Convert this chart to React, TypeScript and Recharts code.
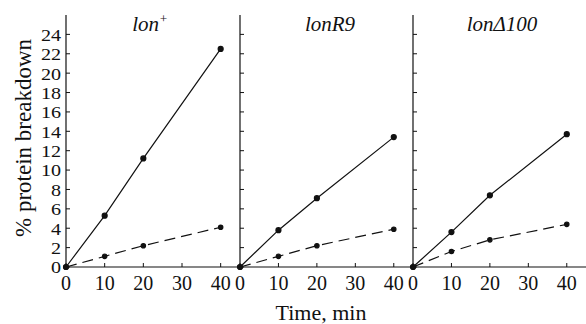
import { Line, LineChart, XAxis, YAxis } from "recharts";

const times = [0, 10, 20, 40];
const lonPlusSolid = [0, 5.3, 11.2, 22.5];
const lonPlusDashed = [0, 1.1, 2.2, 4.1];
const lonR9Solid = [0, 3.8, 7.1, 13.4];
const lonR9Dashed = [0, 1.1, 2.2, 3.9];
const lonD100Solid = [0, 3.6, 7.4, 13.7];
const lonD100Dashed = [0, 1.6, 2.8, 4.4];

const xTicks = [0, 10, 20, 30, 40];
const yTicks = [0, 2, 4, 6, 8, 10, 12, 14, 16, 18, 20, 22, 24];

const FONT = "'Liberation Serif', 'DejaVu Serif', serif";
const INK = "#111";

function rows(solid: number[], dashed: number[]) {
  return times.map((t, i) => ({ t, solid: solid[i], dashed: dashed[i] }));
}

function YTick(props: any) {
  const { x, y, payload, showLabel } = props;
  return (
    <g>
      <line x1={x} x2={x + 4} y1={y} y2={y} stroke={INK} strokeWidth={1} />
      {showLabel && (
        <text
          transform={`translate(${x - 5},${y + 1}) scale(1.22,1)`}
          textAnchor="end"
          dominantBaseline="central"
          fontFamily={FONT}
          fontSize={16.5}
          fill={INK}
        >
          {payload.value}
        </text>
      )}
    </g>
  );
}

function XTick(props: any) {
  const { x, y, payload } = props;
  return (
    <g>
      <line x1={x} x2={x} y1={y} y2={y - 4} stroke={INK} strokeWidth={1} />
      <text
        x={x}
        y={y + 16}
        textAnchor="middle"
        dominantBaseline="central"
        fontFamily={FONT}
        fontSize={20}
        fill={INK}
      >
        {payload.value}
      </text>
    </g>
  );
}

function Panel({
  left,
  width,
  axisWidth,
  marginLeft,
  labels,
  solid,
  dashed,
}: {
  left: number;
  width: number;
  axisWidth: number;
  marginLeft: number;
  labels: boolean;
  solid: number[];
  dashed: number[];
}) {
  return (
    <div style={{ position: "absolute", left, top: 0 }}>
      <LineChart
        width={width}
        height={300}
        data={rows(solid, dashed)}
        margin={{ top: 15, right: 0, left: marginLeft, bottom: 0 }}
      >
        <XAxis
          dataKey="t"
          type="number"
          domain={[0, 45]}
          ticks={xTicks}
          height={33}
          tickSize={0}
          tickMargin={0}
          tickLine={false}
          axisLine={{ stroke: INK, strokeWidth: 1.2 }}
          tick={<XTick />}
          interval={0}
        />
        <YAxis
          type="number"
          domain={[0, 26]}
          ticks={yTicks}
          width={axisWidth}
          tickSize={0}
          tickMargin={0}
          tickLine={false}
          axisLine={{ stroke: INK, strokeWidth: 1.2 }}
          tick={<YTick showLabel={labels} />}
          interval={0}
        />
        <Line
          dataKey="solid"
          type="linear"
          stroke={INK}
          strokeWidth={1.2}
          dot={{ r: 2.5, fill: INK, stroke: INK }}
          isAnimationActive={false}
        />
        <Line
          dataKey="dashed"
          type="linear"
          stroke={INK}
          strokeWidth={1.2}
          strokeDasharray="11 6"
          dot={{ r: 2.2, fill: INK, stroke: INK, strokeDasharray: "0" }}
          isAnimationActive={false}
        />
      </LineChart>
    </div>
  );
}

export default function App() {
  return (
    <div
      style={{
        position: "absolute",
        left: 0,
        top: 0,
        width: 586,
        height: 324,
        background: "#fff",
        overflow: "hidden",
      }}
    >
      <Panel left={0} width={240} axisWidth={66} marginLeft={0} labels solid={lonPlusSolid} dashed={lonPlusDashed} />
      <Panel left={230} width={183} axisWidth={1} marginLeft={9} labels={false} solid={lonR9Solid} dashed={lonR9Dashed} />
      <Panel left={403} width={183} axisWidth={1} marginLeft={9} labels={false} solid={lonD100Solid} dashed={lonD100Dashed} />
      <svg
        width={586}
        height={324}
        style={{ position: "absolute", left: 0, top: 0, pointerEvents: "none" }}
      >
        <g fontFamily={FONT} fill={INK}>
          <text x={150} y={31} textAnchor="middle" fontSize={21} fontStyle="italic">
            lon<tspan dy={-8} fontSize={13}>+</tspan>
          </text>
          <text x={330} y={31} textAnchor="middle" fontSize={21} fontStyle="italic">
            lonR9
          </text>
          <text x={502} y={31} textAnchor="middle" fontSize={21} fontStyle="italic">
            lonΔ100
          </text>
          <text x={321} y={320} textAnchor="middle" fontSize={22}>
            Time, min
          </text>
          <text
            x={31}
            y={138}
            textAnchor="middle"
            fontSize={23}
            transform="rotate(-90 31 138)"
          >
            % protein breakdown
          </text>
        </g>
      </svg>
    </div>
  );
}
